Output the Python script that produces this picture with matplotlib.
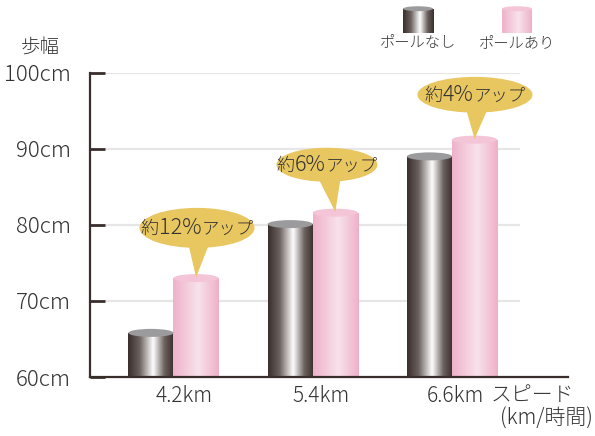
import numpy as np
import matplotlib.pyplot as plt
from matplotlib.patches import Ellipse, Polygon, Rectangle
from matplotlib.colors import to_rgb
from matplotlib.offsetbox import TextArea, HPacker, AnnotationBbox

plt.rcParams['font.family'] = ['Noto Sans CJK JP', 'DejaVu Sans']
plt.rcParams['font.weight'] = 'light'

speeds = ['4.2km', '5.4km', '6.6km']
no_pole = [65.8, 80.1, 89.0]
with_pole = [73.0, 81.6, 91.2]
gains = ['12%', '6%', '4%']
yticks = [60, 70, 80, 90, 100]
ytick_labels = ['60cm', '70cm', '80cm', '90cm', '100cm']

dark_stops = [(0.0, '#3a2f2d'), (0.25, '#6b615e'), (0.55, '#ffffff'), (0.8, '#6a605d'), (1.0, '#3a2f2d')]
pink_stops = [(0.0, '#efb2ca'), (0.55, '#f8e2eb'), (1.0, '#eeb1c9')]
dark_cap = '#9b9a9c'
pink_cap = '#f4c4d7'
text_c = '#333333'
axis_c = '#3a2e2c'


def gradient(stops, n=64):
    pos = [p for p, _ in stops]
    cols = np.array([to_rgb(c) for _, c in stops])
    t = np.linspace(0, 1, n)
    row = np.stack([np.interp(t, pos, cols[:, k]) for k in range(3)], axis=-1)
    return row[np.newaxis, :, :]


def cylinder(ax, x0, w, y0, y1, stops, cap, cap_h):
    im = ax.imshow(gradient(stops), extent=(x0, x0 + w, y0, y1), aspect='auto',
                   interpolation='bicubic', zorder=2)
    clip = Rectangle((x0, y0), w, y1 - y0, transform=ax.transData)
    im.set_clip_path(clip)
    ax.add_patch(Ellipse((x0 + w / 2, y1), w, cap_h, facecolor=cap, edgecolor='none', zorder=3))


fig = plt.figure(figsize=(5.95, 4.36), dpi=100)
ax = fig.add_axes([90 / 595, 1 - 377 / 436, (568 - 90) / 595, (377 - 72.7) / 436])

w = 0.324
cap_h = 1.05
x = np.arange(len(speeds))
ax.set_xlim(-0.5996, 2.833)
ax.set_ylim(60, 100)

ax.hlines(yticks[1:], -0.492, 2.488, colors='#e6e6e6', linewidth=1.6, zorder=1)

for i in x:
    cylinder(ax, i - w, w, 60, no_pole[i], dark_stops, dark_cap, cap_h)
    cylinder(ax, i, w, 60, with_pole[i], pink_stops, pink_cap, cap_h)

# callout bubbles
bub_x = [0.169, 1.102, 2.165]
bub_y = [79.6, 87.9, 97.1]
bub_w = [0.826, 0.725, 0.826]
bub_h = [5.26, 4.47, 4.7]
for i in x:
    tip = (i + w / 2, with_pole[i] + 0.1)
    bx, by = bub_x[i], bub_y[i]
    ax.add_patch(Polygon([(bx - 0.07, by - 1.5), (bx + 0.1, by - 1.5), tip],
                         closed=True, facecolor='#e8c660', edgecolor='none', zorder=4))
    ax.add_patch(Ellipse((bx, by), bub_w[i], bub_h[i], facecolor='#e8c660', edgecolor='none', zorder=4))
    parts = [TextArea('約', textprops=dict(fontsize=13, color=text_c)),
             TextArea(gains[i], textprops=dict(fontsize=15.5, color=text_c)),
             TextArea('アップ', textprops=dict(fontsize=12.5, color=text_c))]
    box = HPacker(children=parts, align='baseline', pad=0, sep=0)
    ab = AnnotationBbox(box, (bx, by), frameon=False, box_alignment=(0.5, 0.5), zorder=5)
    ax.add_artist(ab)

ax.set_yticks(yticks)
ax.set_yticklabels(ytick_labels, fontsize=16, color=text_c)
ax.set_xticks(x + np.array([0.075, 0.059, 0.022]))
ax.set_xticklabels(speeds, fontsize=15, color=text_c)
ax.tick_params(axis='x', length=0, pad=6)
ax.tick_params(axis='y', direction='in', length=11, width=2, color=axis_c, pad=14)
for s in ['top', 'right']:
    ax.spines[s].set_visible(False)
for s in ['left', 'bottom']:
    ax.spines[s].set_color(axis_c)
    ax.spines[s].set_linewidth(1.6)

fig.text(40 / 595, 1 - 47 / 436, '歩幅', ha='center', va='center', fontsize=14, color=text_c)
fig.text(491 / 595, 1 - 395 / 436, 'スピード', ha='left', va='center', fontsize=15, color=text_c)
fig.text(593 / 595, 1 - 419 / 436, '(km/時間)', ha='right', va='center', fontsize=15, color=text_c)

# legend icons
for left, stops, cap, label in [(403, dark_stops, dark_cap, 'ポールなし'),
                                (502, pink_stops, pink_cap, 'ポールあり')]:
    lax = fig.add_axes([left / 595, 1 - 33 / 436, 30 / 595, 27 / 436])
    lax.set_xlim(0, 1)
    lax.set_ylim(0, 10)
    lax.axis('off')
    cylinder(lax, 0, 1, 0, 9.0, stops, cap, 1.8)
    fig.text((left + 15) / 595, 1 - 43 / 436, label, ha='center', va='center', fontsize=11, color=text_c)

fig.savefig('out.png', dpi=100)
